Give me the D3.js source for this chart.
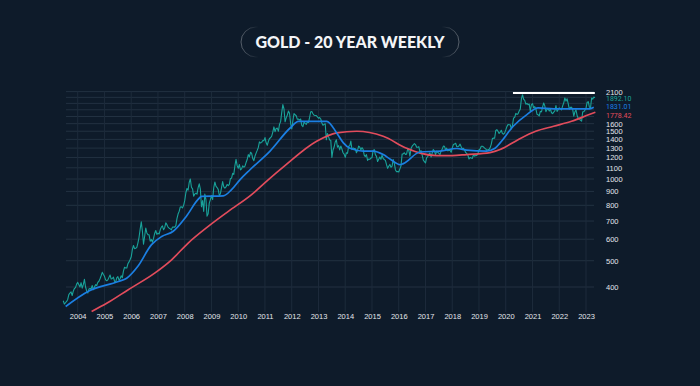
<!DOCTYPE html>
<html>
<head>
<meta charset="utf-8">
<script src="https://cdn.jsdelivr.net/npm/d3@7"></script>
<style>
  body { margin: 0; background: #0e1b2a; }
  svg { display: block; font-family: Roboto, "Liberation Sans", sans-serif; }
</style>
</head>
<body>
<svg id="chart" width="700" height="386"></svg>
<script>
// gold closes, two points a month, from June 2003 to April 2023
const goldStart = 2003.46;
const goldStep = 1 / 24;
const goldCloses = [
  // 2003 (jun - dec)
  356, 346, 350, 354, 360, 375, 380, 384, 372, 386, 395, 398, 410, 416,
  // 2004
  408, 400, 415, 396, 408, 427, 400, 387, 380, 393, 395, 394, 405, 391, 400, 408, 405, 416, 420, 429, 440, 453, 445, 438,
  // 2005
  425, 422, 425, 434, 443, 428, 430, 435, 420, 417, 432, 437, 424, 429, 440, 433, 458, 473, 470, 470, 487, 495, 505, 517,
  // 2006
  550, 569, 554, 556, 560, 582, 610, 654, 695, 643, 575, 614, 660, 633, 623, 623, 590, 599, 585, 604, 630, 646, 625, 632,
  // 2007
  627, 650, 665, 672, 650, 662, 690, 679, 665, 659, 655, 650, 665, 666, 665, 673, 715, 743, 760, 789, 790, 783, 800, 834,
  // 2008
  890, 923, 910, 971, 1000, 933, 920, 865, 880, 886, 880, 930, 960, 918, 790, 833, 760, 880, 840, 730, 745, 815, 840, 869,
  // 2009
  840, 928, 975, 942, 930, 916, 870, 883, 930, 979, 935, 926, 935, 955, 945, 955, 1005, 1007, 1050, 1040, 1120, 1182, 1120, 1096,
  // 2010
  1130, 1081, 1090, 1118, 1105, 1115, 1150, 1180, 1230, 1207, 1255, 1244, 1190, 1169, 1215, 1246, 1275, 1307, 1370, 1357, 1365, 1386, 1385, 1421,
  // 2011
  1360, 1332, 1375, 1410, 1420, 1439, 1490, 1556, 1495, 1536, 1540, 1500, 1590, 1628, 1760, 1880, 1815, 1625, 1680, 1722, 1780, 1746, 1600, 1531,
  // 2012
  1640, 1744, 1725, 1711, 1660, 1662, 1650, 1664, 1575, 1559, 1620, 1604, 1590, 1622, 1615, 1687, 1770, 1772, 1740, 1719, 1715, 1714, 1695, 1675,
  // 2013
  1685, 1664, 1610, 1578, 1590, 1598, 1395, 1472, 1430, 1393, 1390, 1200, 1280, 1312, 1370, 1395, 1310, 1327, 1280, 1323, 1290, 1250, 1235, 1202,
  // 2014
  1250, 1244, 1320, 1326, 1380, 1284, 1300, 1295, 1295, 1250, 1275, 1322, 1310, 1282, 1305, 1287, 1225, 1210, 1230, 1171, 1185, 1182, 1195, 1199,
  // 2015
  1275, 1283, 1230, 1212, 1160, 1183, 1205, 1182, 1225, 1190, 1180, 1171, 1130, 1095, 1115, 1132, 1105, 1115, 1180, 1142, 1080, 1065, 1065, 1061,
  // 2016
  1090, 1118, 1235, 1238, 1250, 1233, 1235, 1293, 1275, 1215, 1295, 1321, 1335, 1351, 1340, 1309, 1310, 1316, 1255, 1272, 1225, 1173, 1160, 1146,
  // 2017
  1200, 1210, 1235, 1249, 1205, 1247, 1285, 1268, 1230, 1268, 1255, 1242, 1230, 1269, 1290, 1322, 1320, 1280, 1300, 1270, 1275, 1275, 1255, 1303,
  // 2018
  1340, 1345, 1355, 1318, 1315, 1325, 1345, 1315, 1290, 1298, 1280, 1253, 1240, 1224, 1185, 1201, 1195, 1191, 1230, 1215, 1220, 1222, 1240, 1282,
  // 2019
  1290, 1321, 1320, 1313, 1300, 1292, 1275, 1283, 1285, 1305, 1345, 1409, 1415, 1413, 1510, 1520, 1500, 1472, 1490, 1513, 1470, 1463, 1480, 1517,
  // 2020
  1560, 1587, 1585, 1585, 1530, 1577, 1680, 1686, 1745, 1730, 1740, 1781, 1810, 1975, 2045, 1968, 1950, 1887, 1900, 1879, 1890, 1777, 1880, 1895,
  // 2021
  1830, 1848, 1815, 1734, 1725, 1708, 1775, 1769, 1840, 1907, 1860, 1770, 1810, 1814, 1780, 1814, 1755, 1743, 1765, 1783, 1865, 1774, 1800, 1829,
  // 2022
  1815, 1797, 1860, 1909, 1990, 1937, 1975, 1897, 1810, 1837, 1840, 1807, 1705, 1766, 1800, 1711, 1675, 1672, 1645, 1634, 1770, 1769, 1795, 1824,
  // 2023 (jan - apr)
  1920, 1928, 1840, 1827, 1990, 1969, 2005, 1990
];

// blue average line [year, value]
const blueAvg = [
  [2003.55, 339], [2004.4, 386], [2005.52, 419], [2005.83, 431], [2006.25, 477], [2006.76, 573],
  [2007.14, 614], [2007.57, 642], [2008.07, 731], [2008.5, 841], [2008.63, 863], [2009.44, 867],
  [2009.75, 914], [2010.07, 995], [2010.44, 1082], [2011.19, 1268], [2011.94, 1542], [2012.25, 1632],
  [2013.31, 1632], [2013.68, 1479], [2013.93, 1359], [2014.18, 1298], [2014.68, 1268], [2015.05, 1268],
  [2015.42, 1231], [2015.7, 1180], [2016.05, 1130], [2016.17, 1140], [2016.8, 1258], [2017.55, 1268],
  [2018.17, 1296], [2018.54, 1278], [2019.29, 1268], [2019.6, 1298], [2019.79, 1359], [2020.28, 1565],
  [2020.79, 1728], [2021.21, 1829], [2021.79, 1815], [2023.14, 1815], [2023.29, 1838]
];

// red average line [year, value]
const redAvg = [
  [2004.52, 325], [2005.1, 349], [2005.89, 391], [2006.89, 451], [2007.51, 504], [2008.13, 581],
  [2008.88, 669], [2009.63, 760], [2010.5, 876], [2011.13, 995], [2011.69, 1108], [2012.93, 1377],
  [2013.68, 1479], [2014.43, 1500], [2015.42, 1437], [2016.3, 1298], [2016.8, 1246], [2017.42, 1220],
  [2018.0, 1220], [2018.54, 1231], [2019.41, 1252], [2019.79, 1284], [2020.46, 1397], [2021.12, 1500],
  [2021.79, 1565], [2022.46, 1632], [2023.12, 1728], [2023.35, 1762]
];

// resistance line
const resistance = { from: 2020.27, to: 2023.33, value: 2075 };

const years = d3.range(2004, 2024);
const tickLabels = [400, 500, 600, 700, 800, 900, 1000, 1100, 1200, 1300, 1400, 1500, 1600, 2100];
const gridValues = d3.range(400, 2101, 100);
const lastLabels = ["1892.10", "1831.01", "1778.42"];

const svg = d3.select("#chart");
svg.append("rect").attr("width", 700).attr("height", 386).attr("fill", "#0e1b2a");

// title pill
const defs = svg.append("defs");
const grad = defs.append("linearGradient").attr("id", "pill").attr("x1", "0%").attr("x2", "100%");
grad.append("stop").attr("offset", "0%").attr("stop-color", "#fff").attr("stop-opacity", 0.3);
grad.append("stop").attr("offset", "8%").attr("stop-color", "#fff").attr("stop-opacity", 0);
grad.append("stop").attr("offset", "92%").attr("stop-color", "#fff").attr("stop-opacity", 0);
grad.append("stop").attr("offset", "100%").attr("stop-color", "#fff").attr("stop-opacity", 0.3);

svg.append("rect")
  .attr("x", 241).attr("y", 27).attr("width", 218).attr("height", 30).attr("rx", 15)
  .attr("fill", "none").attr("stroke", "url(#pill)").attr("stroke-width", 1);

svg.append("text")
  .attr("x", 350).attr("y", 48)
  .attr("text-anchor", "middle")
  .attr("fill", "#f4f5f7")
  .style("font-family", "Lato, 'Open Sans', sans-serif")
  .style("font-weight", 900)
  .style("font-size", "16px")
  .text("GOLD - 20 YEAR WEEKLY");

// scales
const x = d3.scaleLinear().domain([2004, 2023]).range([77.7, 586]);
const y = d3.scaleLog().domain([320, 2100]).range([313.3, 91.6]);

const plotLeft = 66, plotRight = 594, plotTop = 91.6, plotBottom = 312;

// grid
svg.append("g").selectAll("line")
  .data(gridValues)
  .enter().append("line")
  .attr("x1", plotLeft).attr("x2", plotRight)
  .attr("y1", d => y(d)).attr("y2", d => y(d))
  .attr("stroke", "#223141").attr("stroke-width", 1);

svg.append("g").selectAll("line")
  .data(years)
  .enter().append("line")
  .attr("x1", d => x(d)).attr("x2", d => x(d))
  .attr("y1", plotTop).attr("y2", plotBottom)
  .attr("stroke", "#1d2b3b").attr("stroke-width", 1);

// axes
const xAxis = d3.axisBottom(x).tickValues(years).tickFormat(d3.format("d")).tickSize(0).tickPadding(0);
const gx = svg.append("g").attr("transform", "translate(0," + 313.5 + ")").call(xAxis);
gx.select(".domain").remove();
gx.selectAll("text").attr("fill", "#e3e6ea").style("font-size", "7.5px").attr("dy", "0.7em");

const yAxis = d3.axisRight(y).tickValues(tickLabels).tickFormat(d3.format("d")).tickSize(0).tickPadding(0);
const gy = svg.append("g").attr("transform", "translate(606,0)").call(yAxis);
gy.select(".domain").remove();
gy.selectAll("text").attr("fill", "#e3e6ea").style("font-size", "7.5px");

// lines
const priceLine = d3.line()
  .x((d, i) => x(goldStart + i * goldStep))
  .y(d => y(d));

svg.append("path")
  .datum(goldCloses)
  .attr("d", priceLine)
  .attr("fill", "none")
  .attr("stroke", "#19a39a")
  .attr("stroke-width", 1.1)
  .attr("stroke-linejoin", "round");

const avgLine = d3.line()
  .x(d => x(d[0]))
  .y(d => y(d[1]))
  .curve(d3.curveMonotoneX);

svg.append("path")
  .datum(redAvg)
  .attr("d", avgLine)
  .attr("fill", "none")
  .attr("stroke", "#e24c5c")
  .attr("stroke-width", 1.7);

svg.append("path")
  .datum(blueAvg)
  .attr("d", avgLine)
  .attr("fill", "none")
  .attr("stroke", "#1b7fe3")
  .attr("stroke-width", 1.7);

svg.append("line")
  .attr("x1", x(resistance.from)).attr("x2", x(resistance.to))
  .attr("y1", y(resistance.value)).attr("y2", y(resistance.value))
  .attr("stroke", "#ffffff").attr("stroke-width", 2);

// last value labels, kept between the 2100 and 1600 tick labels
const lastVals = [goldCloses[goldCloses.length - 1], blueAvg[blueAvg.length - 1][1], redAvg[redAvg.length - 1][1]];
const labelColors = ["#19a39a", "#1b7fe3", "#e24c5c"];
const gap = 8.2;
const labelY = lastVals.map(v => y(v) + 1.5);
for (let i = 0; i < labelY.length; i++) {
  const above = i === 0 ? y(2100) : labelY[i - 1];
  labelY[i] = Math.max(labelY[i], above + gap);
}
for (let i = labelY.length - 1; i >= 0; i--) {
  const below = i === labelY.length - 1 ? y(1600) : labelY[i + 1];
  labelY[i] = Math.min(labelY[i], below - gap);
}

svg.append("g").selectAll("text")
  .data(lastLabels)
  .enter().append("text")
  .attr("x", 606)
  .attr("y", (d, i) => labelY[i])
  .attr("dy", "0.32em")
  .attr("fill", (d, i) => labelColors[i])
  .style("font-size", "7px")
  .text(d => d);
</script>
</body>
</html>
